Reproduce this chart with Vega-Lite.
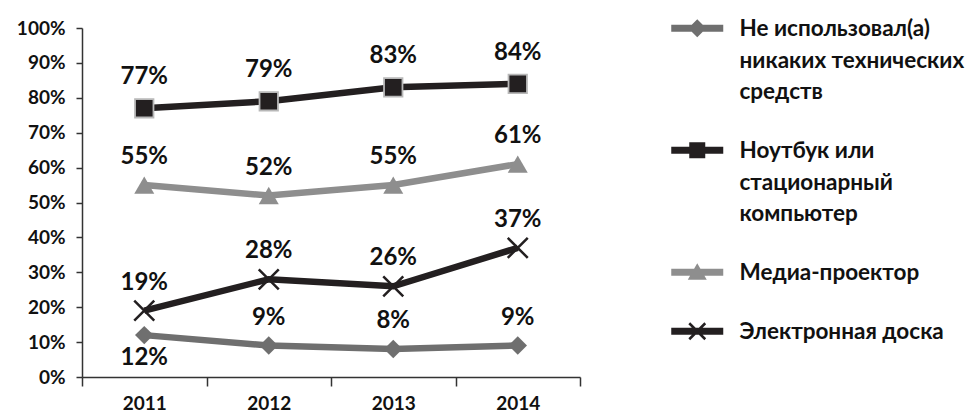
{
  "$schema": "https://vega.github.io/schema/vega-lite/v6.json",
  "width": 498,
  "height": 349,
  "autosize": {"type": "none"},
  "padding": {"left": 82, "top": 28, "right": 398, "bottom": 35},
  "background": "white",
  "config": {"view": {"stroke": null}, "font": "Lato", "style": {"guide-label": {"lineHeight": 31.5}}},
  "data": {
    "values": [
      {"year": "2011", "series": "Не использовал(а) никаких технических средств", "value": 0.12},
      {"year": "2012", "series": "Не использовал(а) никаких технических средств", "value": 0.09},
      {"year": "2013", "series": "Не использовал(а) никаких технических средств", "value": 0.08},
      {"year": "2014", "series": "Не использовал(а) никаких технических средств", "value": 0.09},
      {"year": "2011", "series": "Ноутбук или стационарный компьютер", "value": 0.77},
      {"year": "2012", "series": "Ноутбук или стационарный компьютер", "value": 0.79},
      {"year": "2013", "series": "Ноутбук или стационарный компьютер", "value": 0.83},
      {"year": "2014", "series": "Ноутбук или стационарный компьютер", "value": 0.84},
      {"year": "2011", "series": "Медиа-проектор", "value": 0.55},
      {"year": "2012", "series": "Медиа-проектор", "value": 0.52},
      {"year": "2013", "series": "Медиа-проектор", "value": 0.55},
      {"year": "2014", "series": "Медиа-проектор", "value": 0.61},
      {"year": "2011", "series": "Электронная доска", "value": 0.19},
      {"year": "2012", "series": "Электронная доска", "value": 0.28},
      {"year": "2013", "series": "Электронная доска", "value": 0.26},
      {"year": "2014", "series": "Электронная доска", "value": 0.37}
    ]
  },
  "encoding": {
    "x": {
      "field": "year", "type": "ordinal",
      "scale": {"type": "band", "paddingInner": 0, "paddingOuter": 0},
      "axis": {
        "title": null, "labelAngle": 0, "tickBand": "extent", "tickSize": 9, "labelPadding": 8,
        "labelFont": "Lato", "labelFontSize": 19, "labelFontWeight": "bold", "labelColor": "#111",
        "domainColor": "#333", "tickColor": "#333", "domainWidth": 1.5, "tickWidth": 1.5, "grid": false
      }
    },
    "y": {
      "field": "value", "type": "quantitative",
      "scale": {"domain": [0, 1]},
      "axis": {
        "title": null, "values": [0, 0.1, 0.2, 0.3, 0.4, 0.5, 0.6, 0.7, 0.8, 0.9, 1], "format": ".0%",
        "tickSize": 6, "labelPadding": 11, "labelFont": "Lato", "labelFontSize": 19, "labelFontWeight": "bold",
        "labelColor": "#111", "domainColor": "#333", "tickColor": "#333", "domainWidth": 1.5, "tickWidth": 1.5, "grid": false
      }
    }
  },
  "layer": [
    {
      "transform": [{"filter": "datum.series === 'Не использовал(а) никаких технических средств'"}],
      "mark": {"type": "line", "strokeWidth": 6.5, "color": "#6f6f6f"}
    },
    {
      "transform": [{"filter": "datum.series === 'Ноутбук или стационарный компьютер'"}],
      "mark": {"type": "line", "strokeWidth": 6.5, "color": "#231f20"}
    },
    {
      "transform": [{"filter": "datum.series === 'Медиа-проектор'"}],
      "mark": {"type": "line", "strokeWidth": 6.5, "color": "#8e8e8e"}
    },
    {
      "transform": [{"filter": "datum.series === 'Электронная доска'"}],
      "mark": {"type": "line", "strokeWidth": 6.5, "color": "#231f20"}
    },
    {
      "transform": [{"filter": "datum.series === 'Не использовал(а) никаких технических средств'"}],
      "mark": {"type": "point", "shape": "diamond", "filled": true, "opacity": 1, "size": 340, "color": "#6f6f6f"}
    },
    {
      "transform": [{"filter": "datum.series === 'Ноутбук или стационарный компьютер'"}],
      "mark": {"type": "point", "shape": "square", "filled": true, "opacity": 1, "size": 340, "color": "#231f20", "stroke": "#b8b8b8", "strokeWidth": 1.8}
    },
    {
      "transform": [{"filter": "datum.series === 'Медиа-проектор'"}],
      "mark": {"type": "point", "shape": "triangle-up", "filled": true, "opacity": 1, "size": 400, "color": "#8e8e8e"}
    },
    {
      "transform": [{"filter": "datum.series === 'Электронная доска'"}],
      "mark": {"type": "point", "shape": "M-1,-1L1,1M-1,1L1,-1", "filled": false, "opacity": 1, "size": 400, "strokeWidth": 2.5, "color": "#231f20"}
    },
    {
      "transform": [{"filter": "!(datum.series === 'Не использовал(а) никаких технических средств' && datum.year === '2011') && datum.series !== 'Ноутбук или стационарный компьютер'"}],
      "mark": {"type": "text", "font": "Lato", "fontSize": 24, "fontWeight": "bold", "baseline": "middle", "dy": -28, "color": "#111"},
      "encoding": {"text": {"field": "value", "type": "quantitative", "format": ".0%"}}
    },
    {
      "transform": [{"filter": "datum.series === 'Ноутбук или стационарный компьютер'"}],
      "mark": {"type": "text", "font": "Lato", "fontSize": 24, "fontWeight": "bold", "baseline": "middle", "dy": -31, "color": "#111"},
      "encoding": {"text": {"field": "value", "type": "quantitative", "format": ".0%"}}
    },
    {
      "transform": [{"filter": "datum.series === 'Не использовал(а) никаких технических средств' && datum.year === '2011'"}],
      "mark": {"type": "text", "font": "Lato", "fontSize": 24, "fontWeight": "bold", "baseline": "middle", "dy": 23, "color": "#111"},
      "encoding": {"text": {"field": "value", "type": "quantitative", "format": ".0%"}}
    },
    {
      "mark": {"type": "point", "filled": true, "opacity": 0},
      "encoding": {
        "color": {
          "field": "series", "type": "nominal",
          "scale": {
            "domain": ["Не использовал(а) никаких технических средств", "Ноутбук или стационарный компьютер", "Медиа-проектор", "Электронная доска"],
            "range": ["#6f6f6f", "#231f20", "#8e8e8e", "#231f20"]
          },
          "legend": {
            "title": null, "orient": "none", "legendX": 604, "legendY": -21,
            "symbolSize": 400, "symbolOffset": 0, "padding": 0, "labelOffset": 31,
            "symbolStrokeWidth": 0, "symbolOpacity": 1,
            "labelFont": "Lato", "labelFontSize": 22.5, "labelFontWeight": "bold", "labelColor": "#111",
            "labelBaseline": "top", "labelLimit": 400, "rowPadding": 25,
            "labelExpr": "indexof(datum.label, 'Не использовал') == 0 ? ['Не использовал(а)', 'никаких технических', 'средств'] : indexof(datum.label, 'Ноутбук') == 0 ? ['Ноутбук или', 'стационарный', 'компьютер'] : datum.label",
            "encode": {"labels": {"lineHeight": {"value": 31.5}}}
          }
        },
        "shape": {
          "field": "series", "type": "nominal",
          "scale": {
            "domain": ["Не использовал(а) никаких технических средств", "Ноутбук или стационарный компьютер", "Медиа-проектор", "Электронная доска"],
            "range": [
              "M-2.6,0.65L2.6,0.65L2.6,1.35L-2.6,1.35ZM-0.9,1L0,0.1L0.9,1L0,1.9Z",
              "M-2.6,0.65L2.6,0.65L2.6,1.35L-2.6,1.35ZM-0.8,0.2L0.8,0.2L0.8,1.8L-0.8,1.8Z",
              "M-2.6,0.65L2.6,0.65L2.6,1.35L-2.6,1.35ZM0,0.1L0.95,1.75L-0.95,1.75Z",
              "M-2.6,0.65L2.6,0.65L2.6,1.35L-2.6,1.35ZM-0.71,0.11L0.89,1.71L0.71,1.89L-0.89,0.29ZM-0.89,1.71L0.71,0.11L0.89,0.29L-0.71,1.89Z"
            ]
          }
        }
      }
    }
  ]
}
